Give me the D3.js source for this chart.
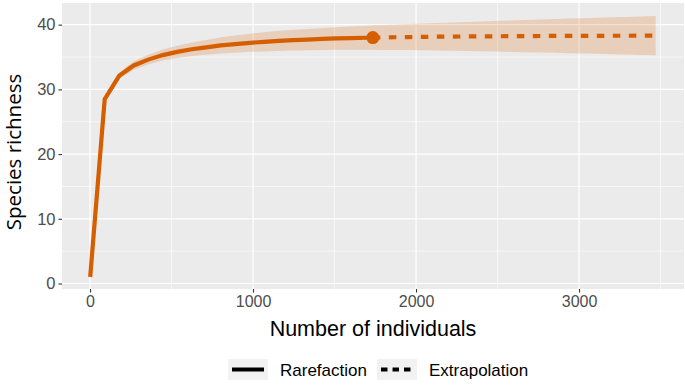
<!DOCTYPE html>
<html>
<head>
<meta charset="utf-8">
<script src="https://cdn.jsdelivr.net/npm/d3@7"></script>
<style>
	body { margin: 0; background: #fff; }
	svg { display: block; }
</style>
</head>
<body>
<svg id="chart"></svg>
<script>
// rarefaction part (sample size m, estimate, lower and upper bounds)
var rareM = [1, 90, 179, 268, 357, 446, 535, 624, 713, 802, 891, 980, 1069, 1158, 1246, 1335, 1424, 1513, 1602, 1691, 1735];
var rareQD = [1, 28.5, 32.1, 33.7, 34.6, 35.3, 35.8, 36.2, 36.5, 36.8, 37.0, 37.2, 37.35, 37.5, 37.6, 37.7, 37.8, 37.87, 37.93, 37.98, 38.0];
var rareLo = [1, 28.2, 31.6, 33.05, 33.85, 34.45, 34.85, 35.15, 35.35, 35.55, 35.68, 35.8, 35.87, 35.95, 36.0, 36.05, 36.1, 36.12, 36.13, 36.13, 36.12];
var rareUp = [1, 28.8, 32.6, 34.35, 35.35, 36.15, 36.75, 37.25, 37.65, 38.05, 38.32, 38.6, 38.83, 39.05, 39.2, 39.35, 39.5, 39.62, 39.73, 39.83, 39.9];

// extrapolation part
var extM = [1735, 1780, 1869, 1958, 2047, 2136, 2225, 2314, 2403, 2492, 2581, 2670, 2759, 2848, 2937, 3026, 3115, 3204, 3293, 3382, 3470];
var extQD = [38.0, 38.02, 38.06, 38.09, 38.12, 38.14, 38.16, 38.18, 38.2, 38.21, 38.22, 38.24, 38.25, 38.26, 38.27, 38.28, 38.28, 38.29, 38.29, 38.3, 38.3];
var extLo = [36.1, 36.1, 36.09, 36.07, 36.05, 36.01, 35.97, 35.93, 35.89, 35.84, 35.79, 35.75, 35.7, 35.65, 35.6, 35.55, 35.49, 35.44, 35.38, 35.33, 35.27];
var extUp = [39.9, 39.94, 40.03, 40.11, 40.19, 40.27, 40.35, 40.43, 40.51, 40.58, 40.65, 40.73, 40.8, 40.87, 40.94, 41.01, 41.07, 41.14, 41.2, 41.27, 41.33];

// observed sample
var obsM = [1735];
var obsQD = [38.0];

var xTicks = [0, 1000, 2000, 3000];
var xMinor = [500, 1500, 2500, 3500];
var yTicks = [0, 10, 20, 30, 40];
var yMinor = [5, 15, 25, 35];
var legendLabels = ['Rarefaction', 'Extrapolation'];

function makeChart() {
	let w = 685;
	let h = 385;
	let col = '#D55E00';
	let panel = { left: 62, right: 684, top: 3, bottom: 289 };

	let chart = d3.select('#chart')
		.attr('width', w)
		.attr('height', h);

	let x = d3.scaleLinear().domain([-172, 3644]).range([panel.left, panel.right]);
	let y = d3.scaleLinear().domain([-0.85, 43.35]).range([panel.bottom, panel.top]);

	let rare = rareM.map((m, i) => ({ m: m, qD: rareQD[i], lo: rareLo[i], up: rareUp[i] }));
	let ext = extM.map((m, i) => ({ m: m, qD: extQD[i], lo: extLo[i], up: extUp[i] }));
	let band = rare.concat(ext.slice(1));

	// panel background
	chart.append('rect')
		.attr('x', panel.left)
		.attr('y', panel.top)
		.attr('width', panel.right - panel.left)
		.attr('height', panel.bottom - panel.top)
		.style('fill', '#EBEBEB');

	// grid
	chart.selectAll('.xminor')
		.data(xMinor)
		.enter()
		.append('line')
		.attr('x1', d => x(d)).attr('x2', d => x(d))
		.attr('y1', panel.top).attr('y2', panel.bottom)
		.style('stroke', '#fff').style('stroke-width', 0.6);

	chart.selectAll('.yminor')
		.data(yMinor)
		.enter()
		.append('line')
		.attr('y1', d => y(d)).attr('y2', d => y(d))
		.attr('x1', panel.left).attr('x2', panel.right)
		.style('stroke', '#fff').style('stroke-width', 0.6);

	chart.selectAll('.xmajor')
		.data(xTicks)
		.enter()
		.append('line')
		.attr('x1', d => x(d)).attr('x2', d => x(d))
		.attr('y1', panel.top).attr('y2', panel.bottom)
		.style('stroke', '#fff').style('stroke-width', 1.2);

	chart.selectAll('.ymajor')
		.data(yTicks)
		.enter()
		.append('line')
		.attr('y1', d => y(d)).attr('y2', d => y(d))
		.attr('x1', panel.left).attr('x2', panel.right)
		.style('stroke', '#fff').style('stroke-width', 1.2);

	// confidence band
	let area = d3.area()
		.x(d => x(d.m))
		.y0(d => y(d.lo))
		.y1(d => y(d.up));

	chart.append('path')
		.datum(band)
		.attr('d', area)
		.style('fill', col)
		.style('fill-opacity', 0.2);

	let line = d3.line()
		.x(d => x(d.m))
		.y(d => y(d.qD));

	chart.append('path')
		.datum(rare)
		.attr('d', line)
		.style('fill', 'none')
		.style('stroke', col)
		.style('stroke-width', 4.2);

	chart.append('path')
		.datum(ext)
		.attr('d', line)
		.style('fill', 'none')
		.style('stroke', col)
		.style('stroke-width', 4.2)
		.style('stroke-dasharray', '7.5,8.5');

	chart.selectAll('.obs')
		.data(obsM)
		.enter()
		.append('circle')
		.attr('cx', d => x(d))
		.attr('cy', (d, i) => y(obsQD[i]))
		.attr('r', 6.5)
		.style('fill', col);

	// axes
	let xAxis = d3.axisBottom(x).tickValues(xTicks).tickFormat(d3.format('d')).tickSize(3.5).tickPadding(3);
	let gx = chart.append('g')
		.attr('transform', 'translate(0,' + panel.bottom + ')')
		.call(xAxis);
	gx.select('.domain').remove();
	gx.selectAll('line').style('stroke', '#333').style('stroke-width', 1.1);
	gx.selectAll('text')
		.style('font-family', 'Liberation Sans, Arial, sans-serif')
		.style('font-size', '16px')
		.style('fill', '#4D4D4D');

	let yAxis = d3.axisLeft(y).tickValues(yTicks).tickFormat(d3.format('d')).tickSize(3.5).tickPadding(3);
	let gy = chart.append('g')
		.attr('transform', 'translate(' + panel.left + ',0)')
		.call(yAxis);
	gy.select('.domain').remove();
	gy.selectAll('line').style('stroke', '#333').style('stroke-width', 1.1);
	gy.selectAll('text')
		.style('font-family', 'Liberation Sans, Arial, sans-serif')
		.style('font-size', '16.5px')
		.style('fill', '#4D4D4D');

	// axis titles
	chart.append('text')
		.attr('x', (panel.left + panel.right) / 2)
		.attr('y', 336)
		.style('text-anchor', 'middle')
		.style('font-family', 'Liberation Sans, Arial, sans-serif')
		.style('font-size', '21.5px')
		.text('Number of individuals');

	chart.append('text')
		.attr('transform', 'translate(21,152) rotate(-90)')
		.style('text-anchor', 'middle')
		.style('font-family', 'Open Sans, sans-serif')
		.style('font-size', '20.5px')
		.text('Species richness');

	// legend
	let keyX = [228, 377];
	let legend = chart.selectAll('.legend')
		.data(legendLabels)
		.enter()
		.append('g')
		.attr('transform', (d, i) => 'translate(' + keyX[i] + ',359)');

	legend.append('rect')
		.attr('width', 40)
		.attr('height', 21)
		.style('fill', '#F2F2F2');

	legend.append('line')
		.attr('x1', 4).attr('x2', 36)
		.attr('y1', 10.5).attr('y2', 10.5)
		.style('stroke', '#000')
		.style('stroke-width', 4)
		.style('stroke-dasharray', (d, i) => i == 1 ? '6.5,5' : null);

	legend.append('text')
		.attr('x', 52)
		.attr('y', 17)
		.style('font-family', 'Liberation Sans, Arial, sans-serif')
		.style('font-size', '17px')
		.text(d => d);
}

makeChart();
</script>
</body>
</html>
